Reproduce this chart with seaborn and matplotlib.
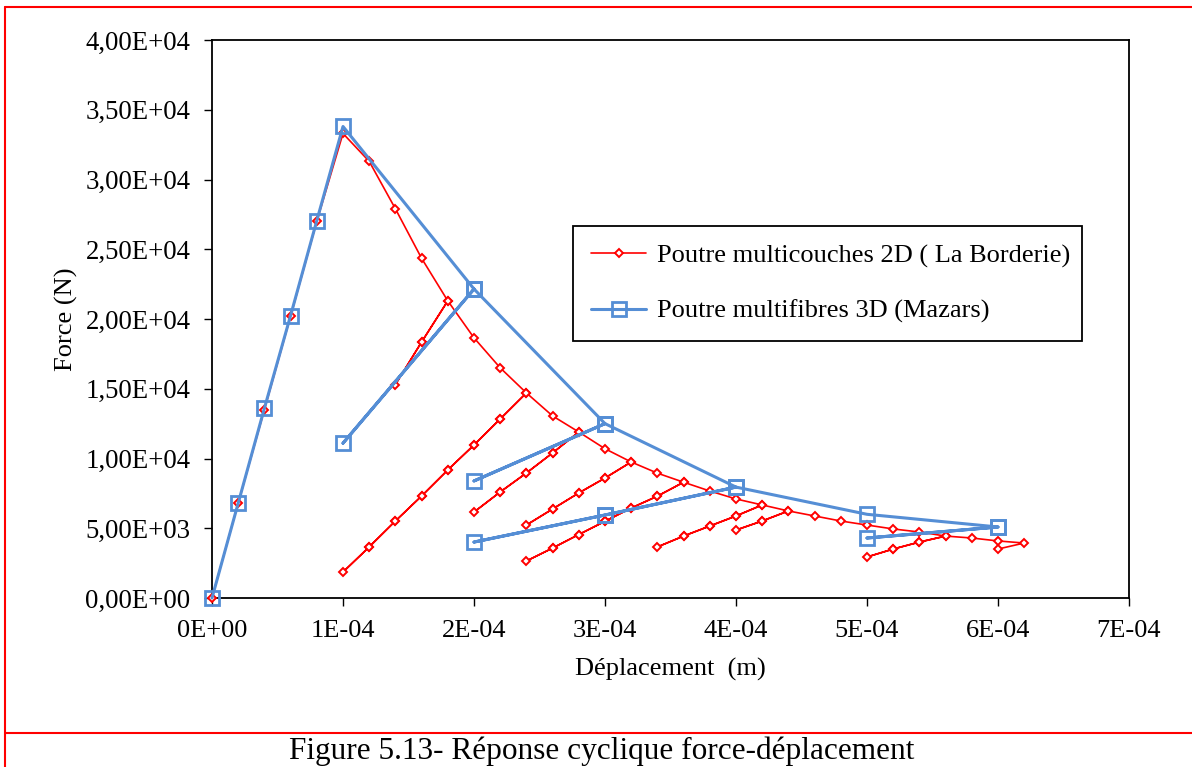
import numpy as np
import pandas as pd
import matplotlib
matplotlib.use("Agg")
import matplotlib.pyplot as plt
from matplotlib.lines import Line2D
from matplotlib.ticker import FuncFormatter, MultipleLocator
import seaborn as sns

# --- Poutre multicouches 2D (La Borderie): envelope points (m, N) ---
lb_env_disp = [0.0, 2e-5, 4e-5, 6e-5, 8e-5, 1.0e-4, 1.2e-4, 1.4e-4, 1.6e-4, 1.8e-4,
               2.0e-4, 2.2e-4, 2.4e-4, 2.6e-4, 2.8e-4, 3.0e-4, 3.2e-4, 3.4e-4, 3.6e-4,
               3.8e-4, 4.0e-4, 4.2e-4, 4.4e-4, 4.6e-4, 4.8e-4, 5.0e-4, 5.2e-4, 5.4e-4,
               5.6e-4, 5.8e-4, 6.0e-4, 6.2e-4]
lb_env_force = [0, 6800, 13500, 20200, 27000, 33300, 31300, 27900, 24350, 21300,
                18650, 16500, 14700, 13050, 11900, 10700, 9750, 8950, 8300,
                7670, 7100, 6670, 6240, 5880, 5520, 5230, 4950, 4730,
                4440, 4300, 4090, 3940]

# unloading branches, keyed by the displacement of the peak they start from
lb_unload_disp = {
    1.8e-4: [1.6e-4, 1.4e-4],
    2.4e-4: [2.2e-4, 2.0e-4, 1.8e-4, 1.6e-4, 1.4e-4, 1.2e-4, 1.0e-4],
    2.8e-4: [2.6e-4, 2.4e-4, 2.2e-4, 2.0e-4],
    3.2e-4: [3.0e-4, 2.8e-4, 2.6e-4, 2.4e-4],
    3.6e-4: [3.4e-4, 3.2e-4, 3.0e-4, 2.8e-4, 2.6e-4, 2.4e-4],
    4.2e-4: [4.0e-4, 3.8e-4, 3.6e-4, 3.4e-4],
    4.4e-4: [4.2e-4, 4.0e-4],
    5.6e-4: [5.4e-4, 5.2e-4, 5.0e-4],
    6.2e-4: [6.0e-4],
}
lb_unload_force = {
    1.8e-4: [18350, 15300],
    2.4e-4: [12830, 10970, 9180, 7310, 5520, 3660, 1860],
    2.8e-4: [10400, 8960, 7600, 6160],
    3.2e-4: [8600, 7530, 6380, 5230],
    3.6e-4: [7300, 6450, 5500, 4550, 3580, 2650],
    4.2e-4: [5880, 5160, 4440, 3660],
    4.4e-4: [5520, 4870],
    5.6e-4: [4010, 3510, 2940],
    6.2e-4: [3510],
}

# --- Poutre multifibres 3D (Mazars) ---
mz_env_disp = [0.0, 2e-5, 4e-5, 6e-5, 8e-5, 1.0e-4, 2.0e-4, 3.0e-4, 4.0e-4, 5.0e-4, 6.0e-4]
mz_env_force = [0, 6800, 13600, 20250, 27050, 33800, 22150, 12500, 7950, 6000, 5090]
mz_unload_disp = {
    2.0e-4: [1.0e-4],
    3.0e-4: [2.0e-4],
    4.0e-4: [3.0e-4, 2.0e-4],
    6.0e-4: [5.0e-4],
}
mz_unload_force = {
    2.0e-4: [11100],
    3.0e-4: [8390],
    4.0e-4: [5950, 4010],
    6.0e-4: [4300],
}

label_lb = "Poutre multicouches 2D ( La Borderie)"
label_mz = "Poutre multifibres 3D (Mazars)"


def cyclic_path(env_d, env_f, un_d, un_f, reload_last=True):
    """Chain the envelope with unload / reload branches in loading order."""
    d_out, f_out = [], []
    last = len(env_d) - 1
    for i, (d, f) in enumerate(zip(env_d, env_f)):
        d_out.append(d)
        f_out.append(f)
        key = next((k for k in un_d if np.isclose(k, d)), None)
        if key is None:
            continue
        d_out += un_d[key]
        f_out += un_f[key]
        if i == last and not reload_last:
            continue
        d_out += un_d[key][-2::-1] + [d]
        f_out += un_f[key][-2::-1] + [f]
    return d_out, f_out


lb_d, lb_f = cyclic_path(lb_env_disp, lb_env_force, lb_unload_disp, lb_unload_force,
                         reload_last=False)
mz_d, mz_f = cyclic_path(mz_env_disp, mz_env_force, mz_unload_disp, mz_unload_force)

lb_df = pd.DataFrame({"disp": lb_d, "force": lb_f})
mz_df = pd.DataFrame({"disp": mz_d, "force": mz_f})

sns.set_theme(style="white")
plt.rcParams["font.family"] = ["Liberation Serif", "DejaVu Serif"]
plt.rcParams["text.color"] = "black"

fig = plt.figure(figsize=(11.92, 7.67), dpi=100)
W, H = 1192, 767
ax = fig.add_axes([212 / W, 1 - 598 / H, 917 / W, 558 / H])

red = "#FF0000"
blue = "#558ED5"

sns.lineplot(data=lb_df, x="disp", y="force", sort=False, estimator=None, ax=ax,
             color=red, linewidth=1.2, marker="D", markersize=4.3,
             markerfacecolor="white", markeredgecolor=red, markeredgewidth=1.4,
             label=label_lb, clip_on=False, zorder=3)
sns.lineplot(data=mz_df, x="disp", y="force", sort=False, estimator=None, ax=ax,
             color=blue, linewidth=2.2, marker="s", markersize=9.5,
             markerfacecolor="none", markeredgecolor=blue, markeredgewidth=2.0,
             label=label_mz, clip_on=False, zorder=4)

ax.set_xlim(0, 7e-4)
ax.set_ylim(0, 4e4)
ax.xaxis.set_major_locator(MultipleLocator(1e-4))
ax.yaxis.set_major_locator(MultipleLocator(5000))
ax.xaxis.set_major_formatter(FuncFormatter(lambda v, p: f"{v:.0E}"))
ax.yaxis.set_major_formatter(FuncFormatter(lambda v, p: f"{v:.2E}".replace(".", ",")))

for s in ax.spines.values():
    s.set_color("black")
    s.set_linewidth(1.3)
ax.tick_params(axis="x", which="major", direction="out", length=5.5, width=1.0,
               color="black", labelsize=19, pad=10, bottom=True, top=False,
               labelcolor="black")
ax.tick_params(axis="y", which="major", direction="out", length=5.5, width=1.0,
               color="black", labelsize=19.3, pad=10, left=True, right=False,
               labelcolor="black")

ax.set_xlabel("Déplacement  (m)", fontsize=19, color="black", labelpad=12)
ax.set_ylabel("Force (N)", fontsize=19, color="black", labelpad=5)

leg = ax.legend(loc="upper left", bbox_to_anchor=(0.3937, 0.4667, 0.555, 0.2),
                mode="expand", borderaxespad=0, fontsize=19, frameon=True,
                fancybox=False, shadow=False, handlelength=2.1, handletextpad=0.4,
                labelspacing=1.2, borderpad=0.68, markerscale=1.0)
leg.get_frame().set_edgecolor("black")
leg.get_frame().set_linewidth(1.3)
leg.get_frame().set_facecolor("white")
leg.get_frame().set_alpha(1)

# page frame and caption
frame_kw = dict(transform=fig.transFigure, color="#FF0000", linewidth=1.5)
fig.add_artist(Line2D([5 / W, 5 / W], [0, 1 - 7 / H], **frame_kw))
fig.add_artist(Line2D([5 / W, 1], [1 - 7 / H, 1 - 7 / H], **frame_kw))
fig.add_artist(Line2D([5 / W, 1], [1 - 733 / H, 1 - 733 / H], **frame_kw))
fig.text(602 / W, 1 - 759 / H, "Figure 5.13- Réponse cyclique force-déplacement",
         ha="center", va="baseline", fontsize=22.5, color="black")

fig.savefig("out.png", dpi=100, facecolor="white")
